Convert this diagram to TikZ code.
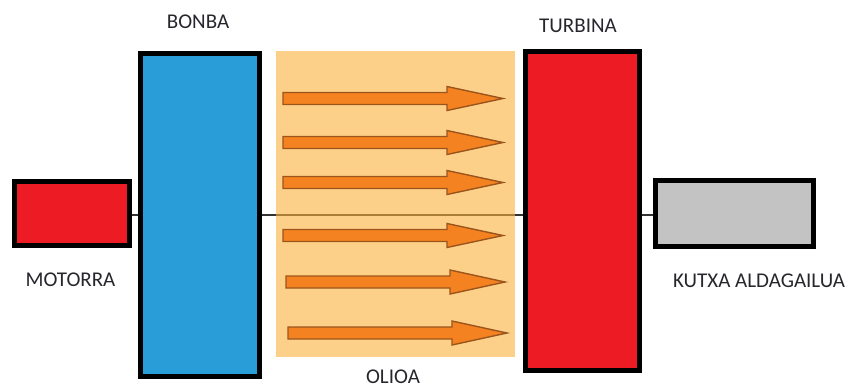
\documentclass[tikz,border=0pt]{standalone}
\usepackage{fontspec}
\setmainfont{Carlito}
\definecolor{motorred}{RGB}{237,28,36}
\definecolor{pumpblue}{RGB}{40,157,216}
\definecolor{oilbase}{RGB}{252,177,60}
\definecolor{flowfill}{RGB}{245,130,32}
\definecolor{flowedge}{RGB}{155,85,28}
\definecolor{boxgray}{RGB}{195,195,195}
\definecolor{labelink}{RGB}{38,38,45}
\tikzset{
  unit/.style={draw=black, line width=5pt, rectangle, inner sep=0pt},
  shaft/.style={draw=black!80, line width=2pt},
  tag/.style={font=\fontsize{21}{24}\selectfont, text=labelink, inner sep=0pt, anchor=center},
  flow/.style={fill=flowfill, draw=flowedge, line width=1.4pt, line join=miter},
}
\begin{document}
\begin{tikzpicture}[x=1pt, y=-1pt]
  \useasboundingbox (0,0) rectangle (848,389);

  % machine units
  \node[unit, fill=motorred, minimum width=115pt, minimum height=64pt] (motorra) at (72,213.5) {};
  \node[unit, fill=pumpblue, minimum width=119pt, minimum height=323pt] (bonba) at (200,215) {};
  \node[unit, fill=motorred, minimum width=114pt, minimum height=319pt] (turbina) at (582.5,211) {};
  \node[unit, fill=boxgray, line width=4.7pt, minimum width=158pt, minimum height=66pt] (kutxa) at (734.5,213.5) {};

  % shaft running through the line
  \draw[shaft] (motorra.east |- bonba.west) -- (bonba.west);
  \draw[shaft] (bonba.east) -- (turbina.west |- bonba.east);
  \draw[shaft] (turbina.east |- bonba.east) -- (kutxa.west |- bonba.east);

  % oil region
  \node[rectangle, fill=oilbase, fill opacity=0.6, minimum width=239pt, minimum height=306pt, inner sep=0pt] (olio) at (395.5,204) {};

  % oil flow arrows: start x, centre y, head base x, tip x
  \foreach \xs/\yc/\xb/\xt in {283/98.5/447/503, 283/142.5/447/503, 283/182.5/447/503,
                               283/235.5/447/503, 286/282/450/505, 288/333/452/507} {
    \draw[flow] (\xs,\yc-6) -- (\xb,\yc-6) -- (\xb,\yc-12) -- (\xt,\yc)
      -- (\xb,\yc+12) -- (\xb,\yc+6) -- (\xs,\yc+6) -- cycle;
  }

  % labels
  \node[tag] (lmotorra) at (70.5,280) {MOTORRA};
  \node[tag] (lbonba) at (198,22) {BONBA};
  \node[tag] (lturbina) at (578,26) {TURBINA};
  \node[tag] (lkutxa) at (759,281) {KUTXA ALDAGAILUA};
  \node[tag] (lolioa) at (393,377) {OLIOA};
\end{tikzpicture}
\end{document}
